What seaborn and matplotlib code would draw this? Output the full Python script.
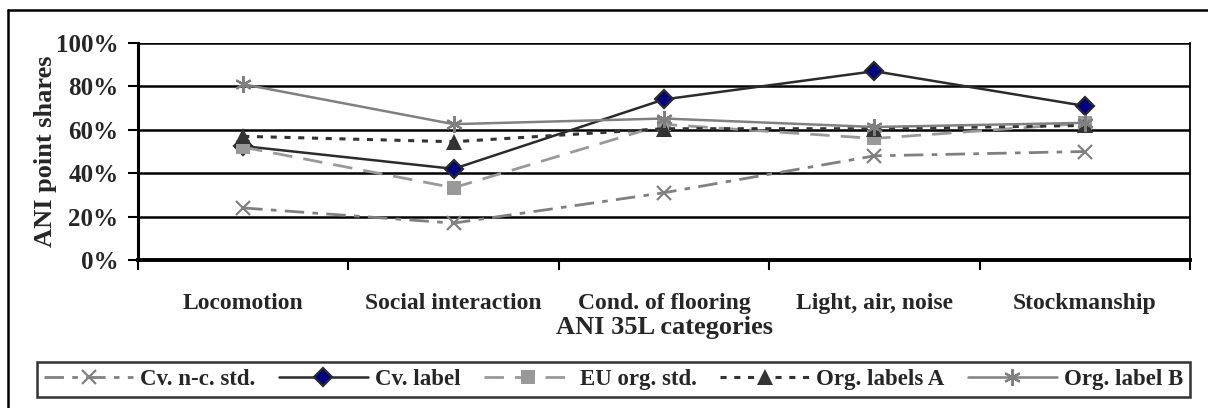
import matplotlib
matplotlib.use("Agg")
import matplotlib.pyplot as plt
import seaborn as sns
import pandas as pd
from matplotlib.ticker import FixedLocator, PercentFormatter
from matplotlib.lines import Line2D

categories = ["Locomotion", "Social interaction", "Cond. of flooring", "Light, air, noise", "Stockmanship"]
cv_nc_std = [0.24, 0.17, 0.31, 0.48, 0.50]
cv_label = [0.525, 0.42, 0.74, 0.87, 0.71]
eu_org_std = [0.52, 0.333, 0.625, 0.56, 0.63]
org_labels_a = [0.57, 0.545, 0.605, 0.605, 0.62]
org_label_b = [0.81, 0.626, 0.652, 0.613, 0.632]
series_names = ["Cv. n-c. std.", "Cv. label", "EU org. std.", "Org. labels A", "Org. label B"]
series_values = [cv_nc_std, cv_label, eu_org_std, org_labels_a, org_label_b]
y_ticks = [0, 0.2, 0.4, 0.6, 0.8, 1.0]

sns.set_theme(style="white")
plt.rcParams['font.family'] = ['Liberation Serif', 'DejaVu Serif']
plt.rcParams['font.weight'] = 'bold'

styles = [
    dict(color="#808080", linestyle=(0, (7, 3, 2, 3)), marker="x", markersize=10, markeredgewidth=1.6,
         markeredgecolor="#808080", markerfacecolor="#808080", linewidth=2),
    dict(color="#2b2b2b", linestyle="-", marker="D", markersize=9, markeredgewidth=1.6,
         markeredgecolor="#2b2b2b", markerfacecolor="#000080", linewidth=1.8),
    dict(color="#999999", linestyle=(0, (7, 4)), marker="s", markersize=10, markeredgewidth=0,
         markeredgecolor="#999999", markerfacecolor="#999999", linewidth=2),
    dict(color="#333333", linestyle=(0, (2, 2.5)), marker="^", markersize=11, markeredgewidth=0,
         markeredgecolor="#333333", markerfacecolor="#333333", linewidth=2.2),
    dict(color="#808080", linestyle="-", marker=(6, 2, 0), markersize=12, markeredgewidth=1.6,
         markeredgecolor="#808080", markerfacecolor="#808080", linewidth=1.8),
]

fig = plt.figure(figsize=(12.08, 4.08), dpi=100)
ax = fig.add_axes([138/1208, 1-260/408, (1190-138)/1208, (260-43)/408])

xpos = list(range(len(categories)))
for name, vals, st in zip(series_names, series_values, styles):
    df = pd.DataFrame({"x": xpos, "y": vals})
    sns.lineplot(data=df, x="x", y="y", ax=ax, legend=False, **st)

ax.set_xlim(-0.5, len(categories) - 0.5)
ax.set_ylim(0, 1)
ax.yaxis.set_major_locator(FixedLocator(y_ticks))
ax.yaxis.set_major_formatter(PercentFormatter(1.0, decimals=0))
ax.set_xticks(xpos)
ax.set_xticklabels(categories)
ax.set_xticks([i - 0.5 for i in range(len(categories) + 1)], minor=True)
ax.tick_params(axis="x", which="major", length=0, pad=24, labelsize=17)
ax.tick_params(axis="x", which="minor", length=7, width=1.5, direction="out", color="black", bottom=True)
ax.tick_params(axis="y", which="major", length=7, width=1.5, direction="out", color="black", left=True,
               labelsize=18, pad=7)
for lab in ax.get_xticklabels() + ax.get_yticklabels():
    lab.set_fontweight("bold")

for y in y_ticks[1:]:
    ax.axhline(y, color="black", linewidth=1.8, zorder=0.5)
ax.grid(False)

ax.spines["left"].set_linewidth(2.2)
ax.spines["left"].set_color("black")
ax.spines["bottom"].set_linewidth(2.8)
ax.spines["bottom"].set_color("black")
ax.spines["right"].set_linewidth(1.3)
ax.spines["right"].set_color("black")
ax.spines["top"].set_visible(False)

ax.set_xlabel("ANI 35L categories", fontsize=19, fontweight="bold", labelpad=1)
ax.set_ylabel("ANI point shares", fontsize=19, fontweight="bold", labelpad=-1)

handles = [Line2D([], [], **st) for st in styles]
leg = fig.legend(handles, series_names, loc="lower left", ncol=5, mode="expand",
                 bbox_to_anchor=(37/1208, 11/408, (1190-37)/1208, 47/408),
                 prop={"family": "Liberation Serif", "weight": "bold", "size": 16.5},
                 handlelength=3.9, handletextpad=0.3, borderaxespad=0, fancybox=False,
                 frameon=True, edgecolor="black", borderpad=0.3)
leg.get_frame().set_linewidth(1.8)

# outer chart border (left and top visible)
fig.add_artist(Line2D([8/1208, 8/1208], [0, 1-10/408], transform=fig.transFigure, color="black", linewidth=1.8))
fig.add_artist(Line2D([8/1208, 1], [1-10/408, 1-10/408], transform=fig.transFigure, color="black", linewidth=1.8))

fig.savefig("out.png", dpi=100, facecolor="white")
